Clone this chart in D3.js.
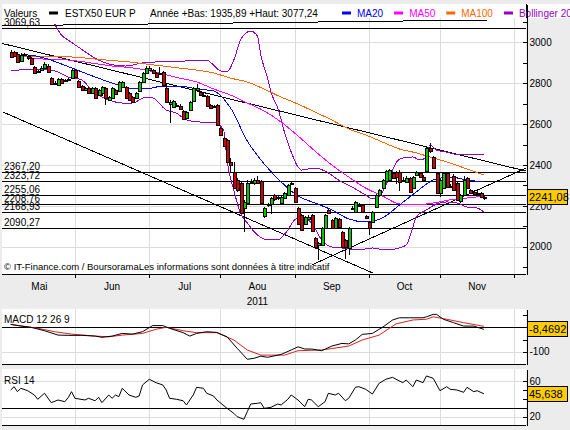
<!DOCTYPE html>
<html>
<head>
<meta charset="utf-8">
<script src="https://d3js.org/d3.v7.min.js"></script>
<style>
body { margin: 0; background: #ececec; }
svg { display: block; font-family: "Liberation Sans", Arial, sans-serif; font-size: 10px; }
</style>
</head>
<body>
<svg class="canvas"></svg>
<script>
// daily candles, index 0 = early May 2011, index 140 = mid November 2011
var openV = [2952,2952,2943,2908,2938,2933,2923,2879,2855,2864,2874,2884,2825,2796,2791,2820,2811,2816,2825,2864,
	2811,2786,2767,2776,2752,2776,2742,2752,2776,2718,2728,2767,2762,2781,2781,2752,2732,2728,2762,2806,
	2850,2864,2864,2850,2849,2855,2776,2698,2683,2693,2690,2664,2630,2669,2713,2767,2757,2742,2739,2693,
	2688,2693,2582,2532,2522,2414,2367,2326,2312,2189,2214,2317,2312,2326,2322,2152,2204,2209,2253,2238,
	2214,2240,2253,2309,2287,2191,2155,2111,2136,2155,2043,2008,2008,2092,2180,2131,2092,2136,2072,2033,
	1994,2191,2170,2204,2204,2150,2121,2121,2194,2253,2287,2322,2326,2361,2366,2367,2326,2317,2336,2287,
	2351,2362,2343,2367,2481,2439,2361,2263,2287,2361,2297,2346,2312,2224,2253,2336,2277,2269,2263,2263,2237];
var closeV = [2928,2933,2904,2938,2943,2923,2894,2850,2860,2874,2894,2855,2796,2801,2820,2801,2816,2820,2864,2830,
	2781,2767,2776,2752,2776,2728,2767,2781,2728,2732,2776,2747,2806,2806,2728,2718,2708,2752,2806,2850,
	2874,2874,2850,2830,2846,2791,2708,2708,2713,2691,2674,2625,2659,2709,2776,2776,2742,2740,2690,2679,
	2683,2595,2547,2493,2414,2400,2287,2277,2165,2220,2312,2314,2326,2312,2214,2189,2207,2240,2233,2241,
	2245,2263,2302,2312,2220,2111,2082,2147,2145,2077,1999,2018,2092,2155,2165,2092,2141,2097,1999,1999,
	2092,2187,2219,2202,2170,2141,2092,2170,2253,2277,2326,2370,2375,2336,2341,2318,2324,2336,2269,2341,
	2366,2343,2326,2481,2465,2384,2263,2326,2361,2294,2295,2277,2229,2253,2326,2287,2263,2258,2260,2245,2241.08];
var highV = [2962,2957,2952,2948,2948,2938,2928,2884,2864,2884,2904,2894,2830,2811,2825,2825,2820,2825,2869,2869,
	2816,2791,2781,2781,2781,2781,2772,2786,2781,2737,2781,2772,2811,2811,2786,2757,2737,2757,2811,2855,
	2884,2884,2869,2855,2879,2860,2801,2718,2718,2703,2698,2669,2664,2713,2781,2796,2762,2752,2742,2698,
	2693,2698,2586,2537,2527,2434,2414,2336,2317,2229,2326,2331,2336,2346,2326,2194,2214,2243,2258,2248,
	2248,2268,2307,2322,2292,2194,2160,2150,2155,2160,2048,2023,2096,2160,2185,2136,2145,2141,2077,2038,
	2096,2199,2224,2214,2209,2155,2126,2175,2258,2282,2331,2375,2380,2366,2370,2375,2341,2346,2341,2346,
	2370,2366,2351,2488,2506,2444,2366,2331,2366,2366,2307,2356,2317,2258,2346,2341,2282,2277,2273,2268,2248];
var lowV = [2923,2928,2899,2904,2933,2913,2889,2845,2850,2860,2869,2850,2791,2791,2786,2796,2806,2811,2820,2825,
	2776,2762,2762,2747,2747,2723,2737,2737,2693,2713,2723,2742,2757,2776,2723,2713,2703,2723,2757,2801,
	2845,2860,2845,2825,2840,2786,2703,2605,2679,2683,2669,2620,2625,2664,2708,2762,2737,2732,2683,2674,
	2679,2591,2542,2488,2409,2366,2282,2268,2160,2073,2209,2307,2302,2307,2204,2141,2194,2160,2224,2229,
	2209,2233,2248,2302,2214,2106,2077,2106,2131,2072,1994,1936,2003,2087,2160,2087,2087,2092,1994,1940,
	1960,2185,2165,2194,2165,2136,2057,2116,2189,2248,2282,2317,2322,2331,2307,2273,2317,2312,2263,2282,
	2346,2336,2322,2361,2459,2380,2258,2243,2282,2287,2287,2273,2224,2214,2248,2282,2258,2253,2253,2238,2229];

// moving averages (candle index, value)
var ma20Idx = [3,5,10,15,20,25,30,35,40,45,50,55,60,65,70,75,80,85,90,95,100,105,110,115,120,125,130,135,140];
var ma20 = [2938,2938,2923,2894,2862,2830,2801,2776,2772,2786,2786,2772,2762,2680,2517,2405,2317,2248,2214,2180,2136,2121,2141,2204,2268,2326,2341,2326,2317];
var ma50Idx = [6,10,15,20,25,30,35,40,45,50,55,60,65,70,75,80,85,90,95,100,105,110,115,120,125,130,135,140];
var ma50 = [2921,2918,2916,2908,2896,2884,2877,2864,2845,2825,2806,2772,2742,2703,2664,2610,2542,2468,2400,2341,2287,2248,2209,2204,2214,2229,2238,2248];
var ma100Idx = [3,10,15,20,25,30,35,40,45,50,55,60,65,70,75,80,85,90,95,100,105,110,115,120,125,130,135,140];
var ma100 = [2933,2933,2931,2926,2918,2911,2904,2894,2884,2874,2864,2850,2825,2806,2771,2732,2698,2659,2620,2576,2547,2512,2478,2459,2434,2410,2380,2351];

// bollinger bands
var bbUpIdx = [13,15,17,20,23,26,29,34,39,43,51,58,60,62,64,66,68,70,71,73,74,76,77,79,81,83,85,86,90,94,97,101,105,107,109,111,113,114,116,119,121,123,124,126,129,133,140];
var bbUp = [3090,3036,3011,2977,2943,2913,2894,2884,2899,2904,2908,2913,2889,2860,2855,2913,3011,3050,3055,3030,2938,2825,2757,2679,2561,2463,2390,2375,2385,2361,2326,2292,2253,2234,2243,2302,2375,2410,2434,2439,2424,2439,2498,2473,2463,2449,2449];
var bbLoIdx = [0,7,13,17,21,24,27,29,33,36,40,42,46,49,52,56,60,63,64,66,68,70,73,76,79,82,84,86,89,92,95,98,103,107,111,115,117,119,120,123,126,129,132,135,138,140];
var bbLo = [2860,2869,2860,2830,2816,2767,2732,2718,2703,2703,2732,2728,2669,2654,2620,2610,2610,2571,2424,2277,2165,2116,2057,2033,2033,2082,2131,2145,2116,2033,1999,1994,1984,1994,1984,1994,2008,2097,2145,2180,2209,2219,2214,2194,2189,2170];

// drawn trend lines: [start index, end index] and [start value, end value]
var trendIdx = [[-3.2,152.5],[-2.3,107.2],[89.1,152.5],[-3.2,140.9]];
var trendVal = [[2997,2370],[2659,1871],[1911,2385],[3081,3109]];

// horizontal levels
var levels = [3069.63,2367.20,2323.72,2255.06,2208.76,2168.93,2090.27];

// MACD 12 26 9
var macdIdx = [0,3,6,10,14,17,21,25,27,30,33,36,39,42,45,47,51,53,55,58,61,64,67,70,72,74,76,80,83,85,87,89,92,95,98,100,102,104,107,110,113,115,118,122,123,125,126,128,131,134,137,140];
var macd = [12,5,0,-14,-32,-33,-33,-36,-41,-36,-25,-28,-18,7,7,-4,-22,-36,-25,-18,-21,-39,-86,-131,-127,-118,-123,-111,-93,-80,-89,-89,-96,-77,-66,-68,-52,-29,-25,0,30,39,39,39,43,53,53,33,19,5,5,-8.4692];
var signalIdx = [0,8,13,18,25,29,33,39,43,46,51,55,61,66,70,74,81,85,92,100,104,109,114,119,123,125,129,134,140];
var signal = [12,-4,-18,-28,-36,-39,-32,-25,-8,0,-14,-22,-22,-52,-93,-114,-114,-96,-93,-77,-52,-32,14,30,33,43,33,19,4];

// RSI 14
var rsiIdx = [0,1,2,3,5,7,8,10,12,14,16,17,18,19,22,23,25,26,27,29,30,31,32,33,35,37,38,39,41,43,45,46,47,49,51,52,54,55,57,58,60,61,64,66,67,69,70,71,73,74,75,77,79,80,82,83,85,87,88,89,91,93,94,96,97,99,100,102,103,105,107,109,111,113,114,116,117,119,120,122,123,125,127,129,130,132,134,135,137,138,140];
var rsi = [49.9,53.6,48,51.8,49.1,44.3,39.5,46.2,35.7,38.7,36.8,41.3,48,40.6,38.7,40.6,37.9,41.7,35.7,44.3,40.6,44.3,42.4,51.8,44.3,41.7,43.2,55.5,61.9,58.1,55.5,49.9,40.6,39.5,37.9,33.1,44.3,52.9,51.8,46.2,43.2,38.7,29.4,23.8,20,17.1,25.6,34.2,35,35.7,29.4,30.5,34.2,33.1,39.5,44.3,38.7,31.2,39.5,38.7,31.2,36.8,46.2,44.3,46.2,37.9,40.6,52.9,53.6,50.7,45.4,57.4,61.9,64.1,61.9,58.1,61.1,53.6,61.1,58.1,65.6,63,49.1,53.6,50.7,49.9,47.3,52.9,48,49.1,45.638];

// time axis
var months = ["Mai","Jun","Jul","Aou","Sep","Oct","Nov"];
var monthStart = [-2,19,41,62,84,106,127,149];
var priceTicks = [1900,2000,2100,2200,2300,2400,2500,2600,2700,2800,2900,3000,3100];
var priceLabels = [2000,2200,2400,2600,2800,3000];
var macdTicks = [50,0,-50,-100];
var rsiTicks = [60,50,40,30,20];

var legendNames = ["MA20","MA50","MA100","Bollinger 20 2"];
var legendColors = ["#0000ff","#ff00ff","#ff6600","#9400c8"];

var W = 570, H = 430;
var LEFT = 2, RIGHT = 526;
var MAIN_TOP = 4, MAIN_BOT = 274;
var HEAD_BOT = 18;
var MACD_TOP = 309, MACD_BOT = 364;
var RSI_TOP = 369, RSI_BOT = 425;
var GRID = "#dcdcdc";
var UP = "#00c800", DOWN = "#d00000";
var TAG = "#ffcc00";

var svg, x, yP, yM, yR;

window.onload = function createVisualization() {

svg = d3.select(".canvas")
	.attr("width", W)
	.attr("height", H);

x = d3.scaleLinear().domain([0,140]).range([10.7,483.9]);
yP = d3.scaleLinear().domain([1866.5,3187.4]).range([MAIN_BOT,MAIN_TOP]);
yM = d3.scaleLinear().domain([-150.4,75]).range([MACD_BOT,MACD_TOP]);
yR = d3.scaleLinear().domain([10.7,73.4]).range([RSI_BOT,RSI_TOP]);

svg.append("rect").attr("width",W).attr("height",H).attr("fill","#ececec");

[[MAIN_TOP,MAIN_BOT],[MACD_TOP,MACD_BOT],[RSI_TOP,RSI_BOT]].forEach(function(p) {
	svg.append("rect")
		.attr("x",LEFT).attr("y",p[0])
		.attr("width",RIGHT-LEFT).attr("height",p[1]-p[0])
		.attr("fill","#fff");
});

svg.append("defs").append("clipPath").attr("id","clipMain")
	.append("rect")
	.attr("x",LEFT).attr("y",HEAD_BOT)
	.attr("width",RIGHT-LEFT).attr("height",MAIN_BOT-HEAD_BOT);

drawGrid();
drawMain();
drawHeader();
drawAxes();
drawMacd();
drawRsi();
}

function px(v) { return Math.round(v) + 0.5; }

function hline(g, y, x1, x2, color) {
	g.append("line")
		.attr("x1",x1).attr("x2",x2)
		.attr("y1",px(y)).attr("y2",px(y))
		.attr("stroke",color).attr("shape-rendering","crispEdges");
}

function vline(g, xv, y1, y2, color) {
	g.append("line")
		.attr("x1",px(xv)).attr("x2",px(xv))
		.attr("y1",y1).attr("y2",y2)
		.attr("stroke",color).attr("shape-rendering","crispEdges");
}

function pairs(idx, val) { return d3.zip(idx, val); }

// month and value grid in all three panels
function drawGrid() {
	var g = svg.append("g");
	monthStart.slice(1).forEach(function(m) {
		vline(g, x(m), HEAD_BOT, MAIN_BOT, GRID);
		vline(g, x(m), MACD_TOP, MACD_BOT, GRID);
		vline(g, x(m), RSI_TOP, RSI_BOT, GRID);
		vline(g, x(m), MAIN_BOT, MAIN_BOT+4, "#000");
	});
	priceLabels.forEach(function(v) { hline(g, yP(v), LEFT, RIGHT, GRID); });
	hline(g, yM(-100), LEFT, RIGHT, GRID);
	hline(g, yR(60), LEFT, RIGHT, GRID);
	hline(g, yR(20), LEFT, RIGHT, GRID);
}

function drawMain() {
	var g = svg.append("g").attr("clip-path","url(#clipMain)");

	// levels
	levels.forEach(function(v) {
		hline(g, yP(v), LEFT, RIGHT, "#000");
		svg.append("text")
			.attr("x",4).attr("y",Math.round(yP(v)) - 2)
			.text(v.toFixed(2).replace(".",","));
	});

	// trend lines
	trendIdx.forEach(function(t,i) {
		g.append("line")
			.attr("x1",x(t[0])).attr("x2",x(t[1]))
			.attr("y1",yP(trendVal[i][0])).attr("y2",yP(trendVal[i][1]))
			.attr("stroke","#000").attr("shape-rendering","crispEdges");
	});

	var line = d3.line()
		.x(function(d) { return x(d[0]); })
		.y(function(d) { return yP(d[1]); })
		.curve(d3.curveMonotoneX);

	var series = [
		[pairs(bbUpIdx,bbUp), legendColors[3]],
		[pairs(bbLoIdx,bbLo), legendColors[3]],
		[pairs(ma100Idx,ma100), legendColors[2]],
		[pairs(ma50Idx,ma50), legendColors[1]],
		[pairs(ma20Idx,ma20), legendColors[0]]
	];
	series.forEach(function(s) {
		g.append("path")
			.attr("d",line(s[0]))
			.attr("fill","none")
			.attr("stroke",s[1])
			.attr("shape-rendering","crispEdges");
	});

	// candles
	var c = g.selectAll("g.candle").data(d3.range(openV.length))
		.enter().append("g")
		.attr("class","candle");

	c.append("line")
		.attr("x1",function(i) { return px(x(i)); })
		.attr("x2",function(i) { return px(x(i)); })
		.attr("y1",function(i) { return yP(highV[i]); })
		.attr("y2",function(i) { return yP(lowV[i]); })
		.attr("stroke","#000")
		.attr("shape-rendering","crispEdges");

	c.append("rect")
		.attr("x",function(i) { return Math.round(x(i)) - 1; })
		.attr("width",3)
		.attr("y",function(i) { return Math.round(yP(Math.max(openV[i],closeV[i]))) + 0.5; })
		.attr("height",function(i) { return Math.max(1, Math.round(Math.abs(yP(openV[i]) - yP(closeV[i])))); })
		.attr("fill",function(i) { return closeV[i] >= openV[i] ? UP : DOWN; })
		.attr("stroke","#000")
		.attr("shape-rendering","crispEdges");

	g.append("text")
		.attr("x",4).attr("y",270)
		.style("font-size","9.5px")
		.text("\u00a9 IT-Finance.com / BoursoramaLes informations sont donn\u00e9es \u00e0 titre indicatif");

	hline(svg, MAIN_BOT, LEFT, RIGHT, "#000");
}

function drawHeader() {
	var g = svg.append("g");
	g.append("rect").attr("x",LEFT).attr("y",MAIN_TOP).attr("width",W-LEFT).attr("height",HEAD_BOT-MAIN_TOP).attr("fill","#fff");
	vline(g, RIGHT, MAIN_TOP, HEAD_BOT, "#000");
	g.append("text").attr("x",4).attr("y",16.5).text("Valeurs");
	g.append("rect").attr("x",49).attr("y",11.5).attr("width",9).attr("height",3).attr("fill","#000");
	g.append("text").attr("x",65).attr("y",16.5).text("ESTX50 EUR P");
	g.append("text").attr("x",150).attr("y",16.5).text("Ann\u00e9e +Bas: 1935,89 +Haut: 3077,24");

	var lx = 342;
	legendNames.forEach(function(n,i) {
		g.append("rect").attr("x",lx).attr("y",11.5).attr("width",9).attr("height",3).attr("fill",legendColors[i]);
		var t = g.append("text").attr("x",lx+15).attr("y",16.5).attr("fill",legendColors[i]).text(n);
		lx = lx + 15 + t.node().getComputedTextLength() + 11;
	});
}

function tag(yc, label) {
	svg.append("rect")
		.attr("x",527.5).attr("y",Math.round(yc) - 7.5)
		.attr("width",40).attr("height",15)
		.attr("fill",TAG).attr("stroke","#000")
		.attr("shape-rendering","crispEdges");
	svg.append("text")
		.attr("x",529).attr("y",Math.round(yc) + 4)
		.style("font-size","11px")
		.text(label);
}

function styleAxis(g) {
	g.selectAll("text").attr("font-family",null).attr("font-size",null).attr("fill","#000");
	g.selectAll("line").attr("shape-rendering","crispEdges");
	g.select(".domain").attr("shape-rendering","crispEdges");
}

function drawAxes() {
	var a = svg.append("g")
		.attr("transform","translate(" + (RIGHT + 0.5) + ",0)")
		.call(d3.axisRight(yP).tickValues(priceTicks).tickSize(-4).tickSizeOuter(0).tickPadding(3)
			.tickFormat(function(v) { return priceLabels.indexOf(v) >= 0 ? v : ""; }));
	styleAxis(a);

	tag(yP(closeV[closeV.length-1]), closeV[closeV.length-1].toFixed(2).replace(".",","));

	var xl = svg.append("g");
	months.forEach(function(m,i) {
		xl.append("text")
			.attr("x",(x(monthStart[i]) + x(monthStart[i+1])) / 2)
			.attr("y",289.5)
			.attr("text-anchor","middle")
			.text(m);
	});
	xl.append("text")
		.attr("x",(x(monthStart[3]) + x(monthStart[4])) / 2)
		.attr("y",304.5)
		.attr("text-anchor","middle")
		.text("2011");
}

function drawMacd() {
	var g = svg.append("g");
	hline(g, yM(0), LEFT, RIGHT, "#000");
	var line = d3.line()
		.x(function(d) { return x(d[0]); })
		.y(function(d) { return yM(d[1]); });
	g.append("path").attr("d",line(pairs(signalIdx,signal))).attr("fill","none").attr("stroke","#dd2020");
	g.append("path").attr("d",line(pairs(macdIdx,macd))).attr("fill","none").attr("stroke","#000");
	g.append("text").attr("x",4).attr("y",323).text("MACD 12 26 9");
	hline(svg, MACD_BOT, LEFT, RIGHT, "#000");

	var a = svg.append("g")
		.attr("transform","translate(" + (RIGHT + 0.5) + ",0)")
		.call(d3.axisRight(yM).tickValues(macdTicks).tickSize(-4).tickSizeOuter(0).tickPadding(3)
			.tickFormat(function(v) { return v == -100 ? "-100" : ""; }));
	styleAxis(a);
	tag(yM(macd[macd.length-1]), macd[macd.length-1].toFixed(4).replace(".",","));
}

function drawRsi() {
	var g = svg.append("g");
	hline(g, yR(30), LEFT, RIGHT, "#000");
	var line = d3.line()
		.x(function(d) { return x(d[0]); })
		.y(function(d) { return yR(d[1]); });
	g.append("path").attr("d",line(pairs(rsiIdx,rsi))).attr("fill","none").attr("stroke","#000");
	g.append("text").attr("x",4).attr("y",383.5).text("RSI 14");
	hline(svg, RSI_BOT, LEFT, RIGHT, "#000");

	var a = svg.append("g")
		.attr("transform","translate(" + (RIGHT + 0.5) + ",0)")
		.call(d3.axisRight(yR).tickValues(rsiTicks).tickSize(-4).tickSizeOuter(0).tickPadding(3)
			.tickFormat(function(v) { return (v == 60 || v == 20) ? v : ""; }));
	styleAxis(a);
	tag(yR(rsi[rsi.length-1]), rsi[rsi.length-1].toFixed(3).replace(".",","));
}
</script>
</body>
</html>
